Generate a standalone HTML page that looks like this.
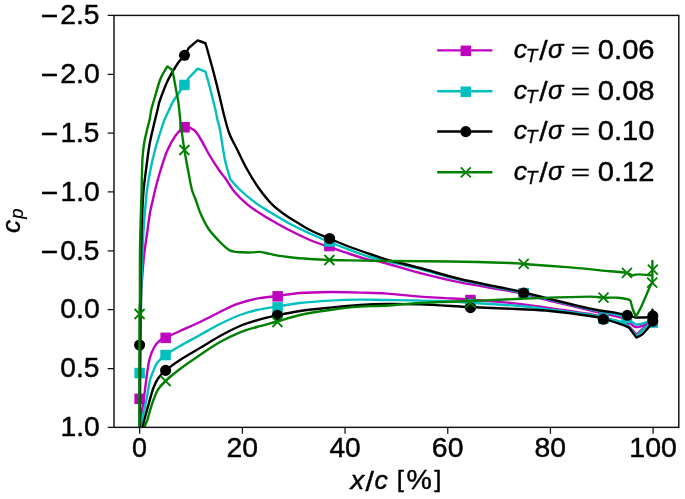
<!DOCTYPE html>
<html lang="en"><head><meta charset="utf-8"><title>Pressure coefficient vs chordwise position</title>
<style>
html,body{margin:0;padding:0;background:#fff;}
body{width:685px;height:499px;overflow:hidden;font-family:"Liberation Sans",sans-serif;}
svg{display:block;}
svg text{font-family:"Liberation Sans",sans-serif;fill:#000;stroke:#000;stroke-width:0.32px;stroke-linejoin:round;}
.txt{filter:grayscale(1);}
</style></head><body>
<svg width="685" height="499" viewBox="0 0 685 499">
<rect x="0" y="0" width="685" height="499" fill="#fff"/>
<defs><clipPath id="ax"><rect x="114.0" y="15.4" width="564.8" height="411.95000000000005"/></clipPath></defs>

<g clip-path="url(#ax)" fill="none" stroke-linejoin="round" stroke-linecap="butt">
<path d="M139.9,440.0C139.9,433.1 139.7,415.5 139.8,398.8C139.9,382.1 140.1,356.5 140.3,340.0C140.5,323.5 140.7,310.0 141.0,300.0C141.3,290.0 141.5,287.3 142.0,280.0C142.5,272.7 143.2,263.7 144.0,256.0C144.8,248.3 146.0,241.2 147.0,234.0C148.0,226.8 149.1,218.0 150.0,212.5C150.9,207.0 151.8,204.7 152.6,201.0C153.4,197.3 153.7,195.5 155.0,190.5C156.3,185.5 158.2,177.7 160.3,171.0C162.4,164.3 164.7,156.5 167.3,150.5C169.9,144.5 173.1,138.9 176.0,135.0C178.9,131.1 181.6,128.1 184.6,127.3C187.6,126.5 191.4,128.2 194.0,130.0C196.6,131.8 197.3,133.7 200.0,138.0C202.7,142.3 206.7,150.4 210.0,156.0C213.3,161.6 217.5,167.9 220.0,171.5C222.5,175.1 222.7,174.6 225.0,177.8C227.3,181.0 230.2,186.5 233.8,190.9C237.5,195.3 242.3,200.2 246.9,204.1C251.5,208.0 256.6,211.2 261.5,214.3C266.4,217.5 271.4,220.3 276.2,223.0C280.9,225.7 284.4,227.7 290.0,230.5C295.6,233.3 303.4,237.2 310.0,240.0C316.6,242.8 322.7,244.7 329.4,247.0C336.1,249.3 343.2,251.8 350.0,254.0C356.8,256.2 364.5,258.6 370.0,260.0C375.5,261.4 374.7,260.3 383.0,262.5C391.3,264.7 407.2,269.7 420.0,273.0C432.8,276.3 443.9,279.2 460.0,282.4C476.1,285.6 501.8,289.3 516.8,292.4C531.8,295.5 537.0,297.6 550.0,300.8C563.0,304.0 584.2,309.0 595.0,311.5C605.8,314.0 609.4,314.7 614.7,316.0C620.0,317.3 623.9,317.9 626.9,319.5C629.9,321.1 631.3,324.4 633.0,325.7C634.7,326.9 635.0,327.1 637.0,327.0C639.0,326.9 642.4,325.8 645.0,324.8C647.6,323.8 651.2,321.6 652.4,321.0" stroke="#bf00bf" stroke-width="2.4"/>
<path d="M140.0,440.0C140.0,437.8 139.5,432.2 140.0,426.5C140.5,420.8 142.0,412.1 142.8,406.0C143.6,399.9 144.3,395.1 145.0,389.8C145.7,384.5 146.2,379.3 147.0,374.0C147.8,368.7 148.5,362.6 149.8,358.0C151.1,353.4 152.9,349.4 154.6,346.5C156.3,343.6 158.2,341.9 160.0,340.4C161.8,338.9 162.3,339.2 165.6,337.6C168.9,336.0 174.3,333.6 180.0,331.0C185.7,328.4 193.3,325.2 200.0,322.0C206.7,318.8 214.0,314.9 220.0,312.0C226.0,309.1 229.9,306.6 236.0,304.4C242.1,302.2 249.9,300.0 256.8,298.6C263.7,297.2 270.2,296.9 277.4,296.0C284.6,295.1 291.2,293.7 300.0,293.0C308.8,292.3 320.0,292.1 330.0,292.0C340.0,291.9 350.5,292.3 360.0,292.6C369.5,292.9 376.8,292.9 386.8,293.6C396.8,294.3 410.3,295.9 420.0,296.6C429.7,297.4 436.6,297.6 445.0,298.1C453.4,298.6 458.4,298.7 470.4,299.6C482.4,300.5 503.5,302.2 516.8,303.6C530.1,305.0 537.8,306.5 550.0,308.2C562.2,309.9 581.1,312.4 590.0,314.0C598.9,315.6 598.4,316.1 603.6,317.5C608.8,318.9 616.8,321.0 621.0,322.5C625.2,324.0 627.7,325.8 629.0,326.5C630.3,327.8 635.4,333.2 636.7,334.5C638.2,333.1 643.4,328.1 646.0,326.0C648.6,323.9 651.3,322.7 652.4,322.0" stroke="#bf00bf" stroke-width="2.4"/>
<g>
<rect x="134.4" y="393.6" width="10.5" height="10.5" fill="#bf00bf"/>
<rect x="160.4" y="332.6" width="10.5" height="10.5" fill="#bf00bf"/>
<rect x="179.3" y="122.0" width="10.5" height="10.5" fill="#bf00bf"/>
<rect x="272.4" y="291.1" width="10.5" height="10.5" fill="#bf00bf"/>
<rect x="324.1" y="240.8" width="10.5" height="10.5" fill="#bf00bf"/>
<rect x="465.2" y="294.8" width="10.5" height="10.5" fill="#bf00bf"/>
<rect x="518.4" y="288.2" width="10.5" height="10.5" fill="#bf00bf"/>
<rect x="598.4" y="311.8" width="10.5" height="10.5" fill="#bf00bf"/>
<rect x="621.6" y="314.2" width="10.5" height="10.5" fill="#bf00bf"/>
<rect x="647.5" y="316.8" width="10.5" height="10.5" fill="#bf00bf"/>
</g>
<path d="M139.9,440.0C139.9,433.3 140.0,411.2 140.0,400.0C140.0,388.8 139.8,384.7 139.9,373.0C140.0,361.3 140.2,345.5 140.5,330.0C140.8,314.5 141.1,295.0 141.5,280.0C141.9,265.0 142.5,250.7 143.0,240.0C143.5,229.3 144.1,222.7 144.6,216.0C145.1,209.3 145.6,204.3 146.0,200.0C146.4,195.7 146.3,195.0 147.0,190.0C147.7,185.0 149.1,176.7 150.4,170.0C151.7,163.3 153.2,156.7 155.0,150.0C156.8,143.3 159.4,135.0 161.0,130.0C162.6,125.0 163.2,123.1 164.5,119.8C165.8,116.5 167.4,113.3 169.0,110.0C170.6,106.7 171.4,104.2 174.0,100.0C176.6,95.8 182.1,88.6 184.5,84.9C186.9,81.2 188.0,79.2 188.7,78.0C190.2,76.4 196.2,70.2 197.7,68.6C199.0,69.1 204.1,71.2 205.4,71.7C206.2,74.4 208.6,82.6 210.0,88.0C211.4,93.4 213.1,100.3 214.0,104.0C214.9,107.7 214.9,107.3 215.5,110.0C216.1,112.7 216.8,116.7 217.5,120.0C218.2,123.3 218.8,123.3 220.0,130.0C221.2,136.7 223.3,151.8 225.0,160.0C226.7,168.2 229.5,176.0 230.4,179.2C231.9,180.9 235.6,185.7 239.6,189.5C243.6,193.3 249.3,198.2 254.2,201.9C259.1,205.6 263.0,207.8 268.9,211.4C274.8,215.0 282.4,219.8 289.3,223.5C296.2,227.2 303.3,230.4 310.0,233.5C316.7,236.6 322.7,239.2 329.4,242.0C336.1,244.8 343.2,247.5 350.0,250.0C356.8,252.5 363.9,255.2 370.0,257.0C376.1,258.8 378.5,259.0 386.8,261.0C395.1,263.0 407.8,265.9 420.0,269.0C432.2,272.1 445.0,276.3 460.0,279.8C475.0,283.3 499.4,287.8 510.0,290.0C520.6,292.2 516.9,291.2 523.6,292.8C530.3,294.4 538.9,296.9 550.0,299.6C561.1,302.4 579.2,306.9 590.0,309.3C600.8,311.7 608.6,312.6 614.7,314.0C620.9,315.4 623.9,316.6 626.9,318.0C629.9,319.4 631.3,321.5 633.0,322.6C634.7,323.7 635.0,324.5 637.0,324.5C639.0,324.5 642.4,323.4 645.0,322.6C647.6,321.9 651.2,320.4 652.4,320.0" stroke="#00bfbf" stroke-width="2.4"/>
<path d="M141.0,440.0C141.0,437.8 141.0,430.2 141.2,426.5C141.4,422.8 141.5,422.4 142.4,418.0C143.3,413.6 145.2,406.0 146.4,400.0C147.6,394.0 148.8,386.0 149.6,382.0C150.4,378.0 150.6,378.0 151.3,376.0C152.0,374.0 152.8,372.2 153.8,370.0C154.8,367.8 155.2,365.3 157.2,362.8C159.2,360.3 161.8,357.8 165.6,355.0C169.4,352.2 174.3,349.3 180.0,346.0C185.7,342.7 193.3,338.7 200.0,335.0C206.7,331.3 213.3,327.3 220.0,324.0C226.7,320.7 233.9,317.3 240.0,315.0C246.1,312.7 250.6,311.4 256.8,310.0C263.0,308.6 270.2,307.6 277.4,306.4C284.6,305.2 291.2,304.0 300.0,303.0C308.8,302.0 320.0,301.2 330.0,300.6C340.0,300.0 350.5,299.7 360.0,299.6C369.5,299.5 373.5,299.8 386.8,300.0C400.1,300.2 426.1,300.5 440.0,301.0C453.9,301.5 457.6,302.0 470.4,302.8C483.2,303.6 503.5,304.7 516.8,305.8C530.1,306.9 537.8,308.1 550.0,309.6C562.2,311.1 581.1,313.4 590.0,314.8C598.9,316.2 598.4,316.8 603.6,318.0C608.8,319.2 616.8,320.5 621.0,322.0C625.2,323.5 627.7,326.2 629.0,327.0C630.2,328.5 635.2,334.5 636.5,336.0C638.1,334.5 643.4,329.2 646.0,327.0C648.6,324.8 651.3,323.7 652.4,323.0" stroke="#00bfbf" stroke-width="2.4"/>
<g>
<rect x="134.4" y="367.8" width="10.5" height="10.5" fill="#00bfbf"/>
<rect x="160.3" y="349.8" width="10.5" height="10.5" fill="#00bfbf"/>
<rect x="179.2" y="79.7" width="10.5" height="10.5" fill="#00bfbf"/>
<rect x="272.4" y="302.1" width="10.5" height="10.5" fill="#00bfbf"/>
<rect x="324.1" y="236.2" width="10.5" height="10.5" fill="#00bfbf"/>
<rect x="465.2" y="298.8" width="10.5" height="10.5" fill="#00bfbf"/>
<rect x="518.5" y="287.9" width="10.5" height="10.5" fill="#00bfbf"/>
<rect x="598.1" y="313.4" width="10.5" height="10.5" fill="#00bfbf"/>
<rect x="621.6" y="312.8" width="10.5" height="10.5" fill="#00bfbf"/>
<rect x="647.5" y="317.2" width="10.5" height="10.5" fill="#00bfbf"/>
</g>
<path d="M139.9,440.0C139.9,433.3 140.0,415.9 140.0,400.0C140.0,384.1 140.0,361.1 140.1,344.4C140.2,327.7 140.3,314.1 140.5,300.0C140.7,285.9 140.8,271.7 141.0,260.0C141.2,248.3 141.4,238.4 141.6,230.0C141.8,221.6 142.1,216.5 142.4,209.8C142.7,203.1 143.0,196.6 143.6,190.0C144.2,183.4 145.0,177.7 146.0,170.0C147.0,162.3 148.3,151.3 149.6,144.0C150.9,136.7 152.3,131.7 153.6,126.0C154.9,120.3 156.4,114.3 157.5,110.0C158.6,105.7 158.2,105.0 160.0,100.0C161.8,95.0 165.0,86.2 168.0,80.0C171.0,73.8 175.2,67.1 178.0,63.0C180.8,58.9 182.7,57.8 184.5,55.3C186.3,52.8 188.0,49.2 188.7,48.0C190.2,46.7 196.2,41.7 197.7,40.4C199.0,40.9 204.1,42.6 205.4,43.1C205.8,44.6 206.6,46.9 208.0,52.0C209.4,57.1 212.1,66.7 214.0,74.0C215.9,81.3 217.8,88.9 219.5,96.0C221.2,103.1 222.7,110.2 224.4,116.5C226.1,122.8 227.3,128.4 229.5,134.0C231.7,139.6 234.5,144.2 237.4,150.0C240.3,155.8 243.4,162.7 246.9,169.0C250.4,175.3 254.5,182.2 258.6,188.0C262.8,193.8 267.2,199.5 271.8,204.1C276.4,208.7 282.0,212.7 286.4,215.8C290.8,219.0 294.2,220.6 298.1,223.0C302.0,225.4 304.8,227.4 310.0,230.0C315.2,232.6 322.7,235.8 329.4,238.6C336.1,241.4 343.2,244.4 350.0,247.0C356.8,249.6 363.9,251.9 370.0,254.0C376.1,256.1 378.5,257.3 386.8,259.6C395.1,261.9 407.8,264.8 420.0,268.0C432.2,271.2 445.0,275.4 460.0,279.0C475.0,282.6 499.4,287.2 510.0,289.4C520.6,291.6 516.9,290.8 523.6,292.4C530.3,294.0 538.6,296.2 550.0,299.0C561.4,301.8 581.2,306.7 592.0,309.0C602.8,311.3 608.9,311.6 614.7,312.6C620.5,313.6 623.4,314.4 626.9,315.2C630.4,316.0 634.2,317.2 635.7,317.6C637.7,317.5 644.8,317.4 647.6,317.2C650.4,317.0 651.6,316.6 652.4,316.5C652.4,315.4 652.4,310.8 652.4,309.6C652.4,311.7 652.4,319.9 652.4,322.0" stroke="#000000" stroke-width="2.4"/>
<path d="M142.5,440.0C142.6,437.8 142.6,430.2 143.0,426.5C143.4,422.8 143.8,421.8 144.8,418.0C145.8,414.2 147.4,408.6 148.8,403.6C150.2,398.6 151.8,392.3 153.4,388.0C155.0,383.7 156.4,380.9 158.4,378.0C160.4,375.1 162.0,373.4 165.6,370.4C169.2,367.4 174.3,363.7 180.0,360.0C185.7,356.3 193.3,352.0 200.0,348.0C206.7,344.0 213.3,339.7 220.0,336.0C226.7,332.3 233.9,328.6 240.0,326.0C246.1,323.4 250.6,322.1 256.8,320.3C263.0,318.5 270.2,316.9 277.4,315.4C284.6,313.8 291.2,312.3 300.0,311.0C308.8,309.7 320.0,308.6 330.0,307.6C340.0,306.6 350.5,305.6 360.0,305.0C369.5,304.4 376.8,304.1 386.8,304.0C396.8,303.9 406.1,303.9 420.0,304.4C433.9,304.9 454.3,306.2 470.4,307.0C486.5,307.8 503.5,308.3 516.8,309.0C530.1,309.7 537.8,309.8 550.0,311.0C562.2,312.2 581.1,314.7 590.0,316.0C598.9,317.3 598.4,317.4 603.6,318.8C608.8,320.2 617.0,322.9 621.3,324.4C625.6,325.9 627.9,327.1 629.2,327.7C630.4,329.4 635.2,336.0 636.4,337.6C637.4,337.1 640.2,336.1 642.3,334.3C644.4,332.5 647.2,329.1 648.9,327.0C650.6,324.9 651.8,322.8 652.4,322.0" stroke="#000000" stroke-width="2.4"/>
<g>
<circle cx="139.6" cy="345.0" r="5.55" fill="#000000"/>
<circle cx="165.6" cy="370.4" r="5.55" fill="#000000"/>
<circle cx="184.5" cy="55.3" r="5.55" fill="#000000"/>
<circle cx="277.4" cy="315.2" r="5.55" fill="#000000"/>
<circle cx="329.6" cy="238.5" r="5.55" fill="#000000"/>
<circle cx="470.5" cy="307.7" r="5.55" fill="#000000"/>
<circle cx="523.7" cy="293.1" r="5.55" fill="#000000"/>
<circle cx="603.3" cy="319.3" r="5.55" fill="#000000"/>
<circle cx="627.3" cy="315.3" r="5.55" fill="#000000"/>
<circle cx="652.8" cy="315.9" r="5.55" fill="#000000"/>
<circle cx="652.8" cy="321.1" r="5.55" fill="#000000"/>
</g>
<path d="M139.3,440.0C139.3,433.3 139.4,421.0 139.4,400.0C139.4,379.0 139.4,330.7 139.5,314.0C139.6,297.3 139.8,310.7 139.9,300.0C140.0,289.3 139.8,265.0 140.0,250.0C140.2,235.0 140.7,219.8 141.0,209.8C141.3,199.8 141.4,198.3 141.6,190.0C141.8,181.7 142.0,167.7 142.4,160.0C142.8,152.3 143.2,149.0 144.0,144.0C144.8,139.0 146.1,134.0 147.0,130.0C147.9,126.0 148.9,123.1 149.6,119.8C150.3,116.5 150.5,113.3 151.2,110.0C151.9,106.7 152.5,105.0 154.0,100.0C155.5,95.0 158.3,84.7 160.0,80.0C161.7,75.3 162.8,74.3 164.0,72.0C165.2,69.7 166.8,67.3 167.4,66.4C168.2,67.0 171.6,69.4 172.4,70.0C172.8,72.3 174.1,79.0 175.0,84.0C175.9,89.0 177.3,95.7 178.0,100.0C178.7,104.3 178.7,105.7 179.2,110.0C179.7,114.3 180.1,119.3 181.0,126.0C181.9,132.7 183.2,142.7 184.4,150.0C185.6,157.3 186.7,163.3 188.0,170.0C189.3,176.7 190.7,185.0 192.0,190.0C193.3,195.0 194.3,195.9 195.8,200.0C197.3,204.1 198.9,209.8 201.0,214.6C203.1,219.4 205.6,224.6 208.6,229.0C211.6,233.4 216.1,237.9 219.0,241.0C221.9,244.1 224.2,246.1 226.0,247.7C227.8,249.3 228.5,249.8 229.8,250.4C231.1,251.1 232.1,251.3 234.0,251.6C235.9,251.9 238.2,252.2 241.2,252.3C244.2,252.4 248.8,252.5 252.0,252.4C255.2,252.3 257.2,251.7 260.2,251.9C263.2,252.2 267.1,253.3 270.0,253.9C272.9,254.5 274.4,255.1 277.7,255.6C281.0,256.1 284.6,256.6 290.0,257.2C295.4,257.8 303.4,258.5 310.0,259.0C316.6,259.5 322.7,259.8 329.4,260.0C336.1,260.2 340.4,260.2 350.0,260.4C359.6,260.6 370.1,260.8 386.8,261.0C403.5,261.2 429.5,261.2 450.0,261.5C470.5,261.8 497.7,262.6 510.0,263.0C522.3,263.4 513.7,263.3 523.7,264.0C533.7,264.7 555.6,266.2 570.0,267.4C584.4,268.6 600.5,270.4 610.0,271.3C619.5,272.2 623.3,272.2 626.9,272.9C630.5,273.6 631.0,275.1 631.8,275.5C632.9,275.3 635.3,274.4 638.4,274.4C641.5,274.3 647.9,275.1 650.2,275.2C652.5,275.3 652.0,274.9 652.4,274.8C652.4,272.5 652.4,263.3 652.4,261.0C652.4,264.7 652.4,279.3 652.4,283.0C652.1,283.3 651.6,283.5 650.8,285.0C650.0,286.5 649.2,288.3 647.6,292.0C646.0,295.7 642.9,303.2 641.0,307.3C639.1,311.4 636.8,315.0 636.0,316.5C635.5,315.4 634.0,312.6 633.1,310.0C632.2,307.4 630.9,302.3 630.5,300.8C630.0,300.5 629.2,299.7 627.2,299.2C625.2,298.7 622.7,297.9 618.7,297.7C614.8,297.4 608.3,297.9 603.5,297.7C598.7,297.5 598.9,296.6 590.0,296.6C581.1,296.6 562.2,297.2 550.0,297.6C537.8,298.0 530.1,298.4 516.8,299.0C503.5,299.6 486.5,300.3 470.4,301.0C454.3,301.7 434.6,302.2 420.0,303.0C405.4,303.8 393.0,305.2 383.0,305.8C373.0,306.4 368.8,305.9 360.0,306.6C351.2,307.3 340.0,308.6 330.0,310.0C320.0,311.4 308.8,313.1 300.0,315.0C291.2,316.9 284.6,319.5 277.4,321.5C270.2,323.5 263.0,325.2 256.8,327.0C250.6,328.8 246.1,329.8 240.0,332.3C233.9,334.8 226.7,338.2 220.0,342.0C213.3,345.8 206.7,350.5 200.0,355.0C193.3,359.5 185.7,364.7 180.0,369.0C174.3,373.3 169.3,377.4 165.6,381.0C161.8,384.6 159.9,386.2 157.5,390.4C155.1,394.6 153.1,401.0 151.4,406.0C149.7,411.0 148.3,417.1 147.2,420.5C146.1,423.9 145.4,423.2 144.8,426.5C144.2,429.8 143.7,437.8 143.5,440.0" stroke="#008000" stroke-width="2.4"/>
<g>
<path d="M134.6,309.0L144.6,319.0M134.6,319.0L144.6,309.0" stroke="#008000" stroke-width="1.8" fill="none" stroke-linecap="butt"/>
<path d="M160.6,376.0L170.6,386.0M160.6,386.0L170.6,376.0" stroke="#008000" stroke-width="1.8" fill="none" stroke-linecap="butt"/>
<path d="M179.4,145.0L189.4,155.0M179.4,155.0L189.4,145.0" stroke="#008000" stroke-width="1.8" fill="none" stroke-linecap="butt"/>
<path d="M272.4,317.0L282.4,327.0M272.4,327.0L282.4,317.0" stroke="#008000" stroke-width="1.8" fill="none" stroke-linecap="butt"/>
<path d="M324.4,255.0L334.4,265.0M324.4,265.0L334.4,255.0" stroke="#008000" stroke-width="1.8" fill="none" stroke-linecap="butt"/>
<path d="M465.5,297.9L475.5,307.9M465.5,307.9L475.5,297.9" stroke="#008000" stroke-width="1.8" fill="none" stroke-linecap="butt"/>
<path d="M518.7,258.9L528.7,268.9M518.7,268.9L528.7,258.9" stroke="#008000" stroke-width="1.8" fill="none" stroke-linecap="butt"/>
<path d="M598.5,292.7L608.5,302.7M598.5,302.7L608.5,292.7" stroke="#008000" stroke-width="1.8" fill="none" stroke-linecap="butt"/>
<path d="M621.9,267.9L631.9,277.9M621.9,277.9L631.9,267.9" stroke="#008000" stroke-width="1.8" fill="none" stroke-linecap="butt"/>
<path d="M647.8,264.6L657.8,274.6M647.8,274.6L657.8,264.6" stroke="#008000" stroke-width="1.8" fill="none" stroke-linecap="butt"/>
<path d="M647.2,277.7L657.2,287.7M647.2,287.7L657.2,277.7" stroke="#008000" stroke-width="1.8" fill="none" stroke-linecap="butt"/>
</g>
</g>
<rect x="114.0" y="15.4" width="564.8" height="411.95000000000005" fill="none" stroke="#111" stroke-width="1.45"/>
<path d="M139.67,427.35v6.3M242.36,427.35v6.3M345.05,427.35v6.3M447.75,427.35v6.3M550.44,427.35v6.3M653.13,427.35v6.3M114.0,15.40h-6.3M114.0,74.25h-6.3M114.0,133.10h-6.3M114.0,191.95h-6.3M114.0,250.80h-6.3M114.0,309.65h-6.3M114.0,368.50h-6.3M114.0,427.35h-6.3" stroke="#111" stroke-width="1.25" fill="none"/>
<g class="txt">
<text transform="matrix(1.3467,0,0,1.3656,132.12,457.31)" font-size="20">0</text>
<text transform="matrix(1.4174,0,0,1.3656,226.51,457.31)" font-size="20">20</text>
<text transform="matrix(1.4074,0,0,1.3656,329.42,457.31)" font-size="20">40</text>
<text transform="matrix(1.4205,0,0,1.3656,431.83,457.31)" font-size="20">60</text>
<text transform="matrix(1.4167,0,0,1.3656,534.60,457.31)" font-size="20">80</text>
<text transform="matrix(1.4261,0,0,1.3656,629.37,457.31)" font-size="20">100</text>
<text transform="matrix(1.5014,0,0,1.5086,40.82,26.18)" font-size="20">−</text>
<text transform="matrix(1.4105,0,0,1.3656,60.23,24.21)" font-size="20">2.5</text>
<text transform="matrix(1.5014,0,0,1.5086,40.82,85.03)" font-size="20">−</text>
<text transform="matrix(1.4247,0,0,1.3656,60.22,83.06)" font-size="20">2.0</text>
<text transform="matrix(1.5014,0,0,1.5086,40.82,143.88)" font-size="20">−</text>
<text transform="matrix(1.4005,0,0,1.3623,60.50,141.91)" font-size="20">1.5</text>
<text transform="matrix(1.5014,0,0,1.5086,40.82,202.73)" font-size="20">−</text>
<text transform="matrix(1.4150,0,0,1.3656,60.48,200.76)" font-size="20">1.0</text>
<text transform="matrix(1.5014,0,0,1.5086,40.82,261.58)" font-size="20">−</text>
<text transform="matrix(1.4070,0,0,1.3656,60.32,259.61)" font-size="20">0.5</text>
<text transform="matrix(1.4211,0,0,1.3656,60.31,318.46)" font-size="20">0.0</text>
<text transform="matrix(1.4070,0,0,1.3656,60.32,377.31)" font-size="20">0.5</text>
<text transform="matrix(1.4150,0,0,1.3656,60.48,436.16)" font-size="20">1.0</text>
</g>
<g class="txt">
<text transform="matrix(1.3706,0,0,1.2913,350.50,489.00)" font-size="20" font-style="italic">x</text>
<text transform="matrix(1.5067,0,0,1.3988,365.60,491.03)" font-size="20">/</text>
<text transform="matrix(1.3315,0,0,1.3068,374.40,489.11)" font-size="20" font-style="italic">c</text>
<text transform="matrix(1.2969,0,0,1.1932,396.78,487.30)" font-size="20">[</text>
<text transform="matrix(1.4268,0,0,1.3527,406.40,489.24)" font-size="20">%</text>
<text transform="matrix(1.2969,0,0,1.1932,434.27,487.30)" font-size="20">]</text>
</g>
<g class="txt" transform="translate(20.3,232.6) rotate(-90)">
<text transform="matrix(1.2996,0,0,1.2755,-0.48,0.11)" font-size="20" font-style="italic">c</text>
<text transform="matrix(0.9200,0,0,0.8739,13.86,3.07)" font-size="20" font-style="italic">p</text>
</g>
<g>
<path d="M437.2,50.4H492.4" stroke="#bf00bf" stroke-width="2.4" fill="none"/>
<rect x="460.6" y="45.6" width="10.5" height="10.5" fill="#bf00bf"/>
<path d="M437.2,91.3H492.4" stroke="#00bfbf" stroke-width="2.4" fill="none"/>
<rect x="460.6" y="86.5" width="10.5" height="10.5" fill="#00bfbf"/>
<path d="M437.2,131.5H492.4" stroke="#000000" stroke-width="2.4" fill="none"/>
<circle cx="465.8" cy="131.6" r="5.55" fill="#000000"/>
<path d="M437.2,172.3H492.4" stroke="#008000" stroke-width="2.4" fill="none"/>
<path d="M460.8,167.4L470.8,177.4M460.8,177.4L470.8,167.4" stroke="#008000" stroke-width="1.8" fill="none" stroke-linecap="butt"/>
</g>
<g class="txt">
<text transform="matrix(1.3368,0,0,1.3120,513.80,58.11)" font-size="20" font-style="italic">c</text>
<text transform="matrix(0.9580,0,0,0.9294,525.68,62.00)" font-size="20" font-style="italic">T</text>
<text transform="matrix(1.5127,0,0,1.4044,539.20,60.04)" font-size="20">/</text>
<text transform="matrix(1.2811,0,0,1.3073,548.10,58.12)" font-size="20" font-style="italic">σ</text>
<text transform="matrix(1.6237,0,0,1.0909,570.98,57.87)" font-size="20">=</text>
<text transform="matrix(1.4584,0,0,1.3496,597.83,58.61)" font-size="20">0.06</text>
<text transform="matrix(1.3368,0,0,1.3120,513.80,99.01)" font-size="20" font-style="italic">c</text>
<text transform="matrix(0.9580,0,0,0.9294,525.68,102.90)" font-size="20" font-style="italic">T</text>
<text transform="matrix(1.5127,0,0,1.4044,539.20,100.94)" font-size="20">/</text>
<text transform="matrix(1.2811,0,0,1.3073,548.10,99.02)" font-size="20" font-style="italic">σ</text>
<text transform="matrix(1.6237,0,0,1.0909,570.98,98.77)" font-size="20">=</text>
<text transform="matrix(1.4584,0,0,1.3496,597.83,99.51)" font-size="20">0.08</text>
<text transform="matrix(1.3368,0,0,1.3120,513.80,139.21)" font-size="20" font-style="italic">c</text>
<text transform="matrix(0.9580,0,0,0.9294,525.68,143.10)" font-size="20" font-style="italic">T</text>
<text transform="matrix(1.5127,0,0,1.4044,539.20,141.14)" font-size="20">/</text>
<text transform="matrix(1.2811,0,0,1.3073,548.10,139.22)" font-size="20" font-style="italic">σ</text>
<text transform="matrix(1.6237,0,0,1.0909,570.98,138.97)" font-size="20">=</text>
<text transform="matrix(1.4545,0,0,1.3496,597.84,139.71)" font-size="20">0.10</text>
<text transform="matrix(1.3368,0,0,1.3120,513.80,180.01)" font-size="20" font-style="italic">c</text>
<text transform="matrix(0.9580,0,0,0.9294,525.68,183.90)" font-size="20" font-style="italic">T</text>
<text transform="matrix(1.5127,0,0,1.4044,539.20,181.94)" font-size="20">/</text>
<text transform="matrix(1.2811,0,0,1.3073,548.10,180.02)" font-size="20" font-style="italic">σ</text>
<text transform="matrix(1.6237,0,0,1.0909,570.98,179.77)" font-size="20">=</text>
<text transform="matrix(1.4555,0,0,1.3496,597.84,180.51)" font-size="20">0.12</text>
</g>
</svg>
</body></html>
